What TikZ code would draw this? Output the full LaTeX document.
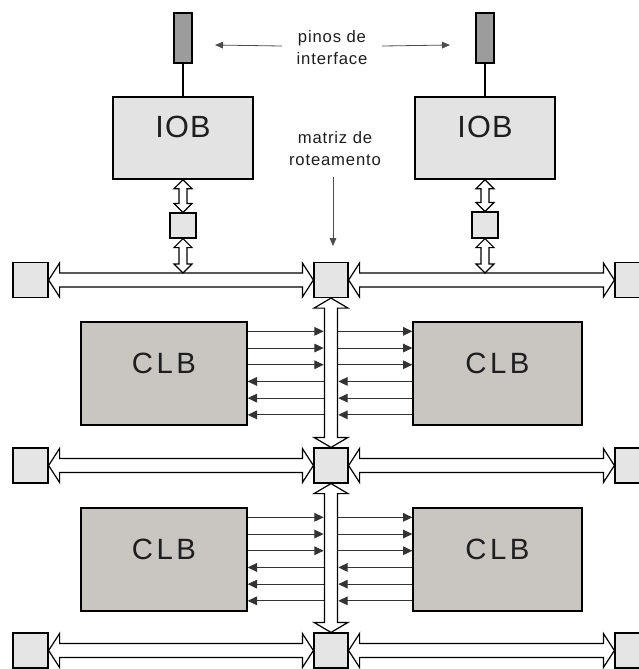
\documentclass[tikz,border=0pt]{standalone}
\usepackage{fontspec}
\setmainfont{Liberation Sans}
\usetikzlibrary{fit,calc,arrows.meta}
\definecolor{pingray}{HTML}{9C9C9C}
\definecolor{iobgray}{HTML}{E3E3E3}
\definecolor{clbgray}{HTML}{C9C6C2}
\definecolor{sqgray}{HTML}{E5E5E5}
\definecolor{sigcol}{HTML}{333333}
\definecolor{txtcol}{HTML}{1E1E1E}
% horizontal hollow double arrow: A (left tip), B (right tip), head half-width, body half-width, head length
\newcommand\hdarrow[5]{%
 \draw[bus] (#1) -- ++(#5,#3) -- ++(0,{-(#3-#4)}) -- ($(#2)+(-#5,#4)$) -- ++(0,{#3-#4}) -- (#2)
   -- ++(-#5,-#3) -- ++(0,{#3-#4}) -- ($(#1)+(#5,-#4)$) -- ++(0,{-(#3-#4)}) -- cycle;}
% vertical hollow double arrow: A (top tip), B (bottom tip)
\newcommand\vdarrow[5]{%
 \draw[bus] (#1) -- ++(#3,#5) -- ++({-(#3-#4)},0) -- ($(#2)+(#4,-#5)$) -- ++({#3-#4},0) -- (#2)
   -- ++(-#3,-#5) -- ++({#3-#4},0) -- ($(#1)+(-#4,#5)$) -- ++({-(#3-#4)},0) -- cycle;}
\begin{document}
\begin{tikzpicture}[x=0.75pt,y=-0.75pt,
  pinbox/.style={draw, fill=pingray, inner sep=0pt, line width=0.8pt},
  iobbox/.style={draw, fill=iobgray, inner sep=0pt, line width=1pt, text=txtcol, font=\fontsize{23}{28}\selectfont\addfontfeatures{LetterSpace=4}},
  clbbox/.style={draw, fill=clbgray, inner sep=0pt, line width=1pt, text=txtcol, font=\fontsize{22}{28}\selectfont\addfontfeatures{LetterSpace=12}},
  sqbox/.style={draw, fill=sqgray, inner sep=0pt, line width=0.9pt},
  bus/.style={draw=black, fill=white, line width=0.9pt, line join=miter},
  sig/.style={draw=sigcol, line width=0.7pt, -{Triangle[length=7pt,width=6.5pt]}},
  lblarr/.style={draw=black!70, line width=0.6pt, -{Triangle[length=6pt,width=5pt]}},
  lbl/.style={font=\fontsize{12.5}{16.5}\selectfont\addfontfeatures{LetterSpace=5}, align=center, text=txtcol, inner sep=2pt}]
\useasboundingbox[fill=white] (0,0) rectangle (639,669);

% labels
\node[lbl] (pinos) at (332,48) {pinos de\\interface};
\node[lbl] (matriz) at (335,149) {matriz de\\roteamento};
\coordinate (ptL) at (215,45);
\coordinate (ptR) at (450,45);
\coordinate (mtip) at (333,246);
\draw[lblarr] ($(pinos.west)+(-12,-2)$) -- (ptL);
\draw[lblarr] ($(pinos.east)+(12,-2)$) -- (ptR);
\draw[lblarr, shorten <=6pt] (mtip |- matriz.south) -- (mtip);

% pins and IOBs
\node[pinbox, fit={(174,13) (192,63)}] (pinL) {};
\node[pinbox, fit={(476,13) (494,63)}] (pinR) {};
\node[iobbox, fit={(113,97) (253,179)}] (iobL) {IOB};
\node[iobbox, fit={(415,97) (555,179)}] (iobR) {IOB};
\draw[line width=0.8pt] (pinL.south) -- (pinL.south |- iobL.north);
\draw[line width=0.8pt] (pinR.south) -- (pinR.south |- iobR.north);

\node[sqbox, fit={(170,213) (196,238)}] (sqL) {};
\node[sqbox, fit={(472,212) (498,238)}] (sqR) {};
\coordinate (btL) at (183,273);
\coordinate (btR) at (485,273);

% routing boxes
\foreach \n/\y in {1/280,2/465.5,3/650.5}{
  \node[sqbox, fit={(13,\y-17.5) (48,\y+17.5)}] (bL\n) {};
  \node[sqbox, fit={(314,\y-17.5) (348,\y+17.5)}] (bC\n) {};
  \node[sqbox, fit={(615,\y-17.5) (650,\y+17.5)}] (bR\n) {};
}

% horizontal buses
\foreach \n in {1,2,3}{
  \hdarrow{bL\n.east}{bC\n.west}{17}{7}{11}
  \hdarrow{bC\n.east}{bR\n.west}{17}{7}{11}
}
% vertical buses
\vdarrow{bC1.south}{bC2.north}{17}{6.5}{10}
\vdarrow{bC2.south}{bC3.north}{17}{6.5}{10}

% IOB connections
\vdarrow{iobL.south}{sqL.north}{9}{4}{9}
\vdarrow{sqL.south}{btL}{9}{4}{9}
\vdarrow{iobR.south}{sqR.north}{9}{4}{9}
\vdarrow{sqR.south}{btR}{9}{4}{9}

% CLBs
\node[clbbox, fit={(81,322) (247,425)}] (clbA) {CLB};
\node[clbbox, fit={(413,322) (582,425)}] (clbB) {CLB};
\node[clbbox, fit={(81,508) (247,611)}] (clbC) {CLB};
\node[clbbox, fit={(413,508) (582,611)}] (clbD) {CLB};

% signal arrows
\foreach \l/\r in {clbA/clbB, clbC/clbD}{
  \foreach \o in {10,26.7,43.4}{
    \draw[sig] ($(\l.north east)+(0,\o)$) -- ($(\l.north east)+(76,\o)$);
    \draw[sig] ($(\r.north west)+(-74,\o)$) -- ($(\r.north west)+(0,\o)$);
  }
  \foreach \o in {60.1,76.8,93.5}{
    \draw[sig] ($(\l.north east)+(76,\o)$) -- ($(\l.north east)+(0,\o)$);
    \draw[sig] ($(\r.north west)+(0,\o)$) -- ($(\r.north west)+(-74,\o)$);
  }
}
\end{tikzpicture}
\end{document}
